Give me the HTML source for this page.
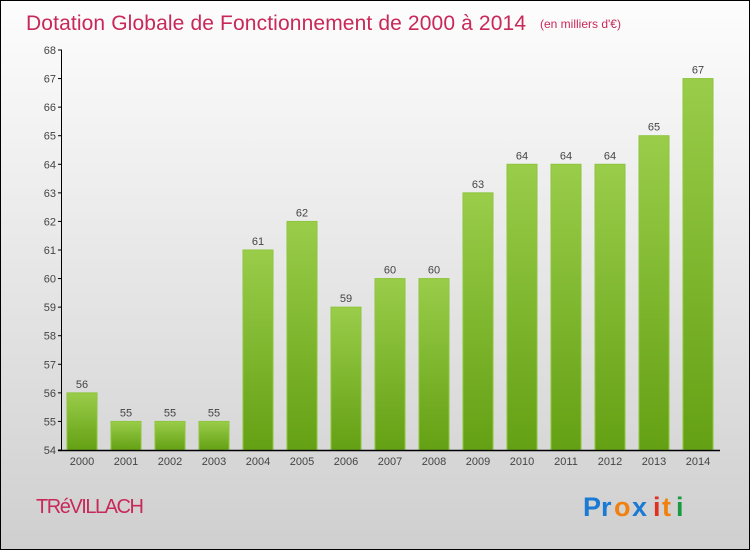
<!DOCTYPE html>
<html><head><meta charset="utf-8"><style>
html,body{margin:0;padding:0;}
body{width:750px;height:550px;overflow:hidden;font-family:"Liberation Sans","DejaVu Sans",sans-serif;}
</style></head><body>
<svg id="chart" width="750" height="550" viewBox="0 0 750 550">
<defs>
<linearGradient id="bg" x1="0" y1="0" x2="0" y2="1"><stop offset="0" stop-color="#fdfdfd"/><stop offset="1" stop-color="#cfcfcf"/></linearGradient>
<linearGradient id="bar" x1="0" y1="0" x2="0" y2="1"><stop offset="0" stop-color="#9acd4a"/><stop offset="1" stop-color="#64a014"/></linearGradient>
</defs>
<rect x="0.5" y="0.5" width="749" height="549" fill="url(#bg)" stroke="#000"/>
<text x="26" y="30" font-size="21" fill="#c8285a" textLength="500">Dotation Globale de Fonctionnement de 2000 à 2014</text>
<text x="540" y="28" font-size="12" fill="#c8285a">(en milliers d'€)</text>
<g id="yaxis"></g><g id="bars"></g><g id="xaxis"></g>
<text x="36" y="513" font-size="20" fill="#c8285a" textLength="108">TRéVILLACH</text>
<g font-size="27" font-weight="bold">
<text x="583" y="516" fill="#1a7ad4">Pr</text><text x="614" y="516" fill="#f08010">o</text><text x="632" y="516" fill="#1a7ad4">x</text><text x="653" y="516" fill="#e03020">i</text><text x="662" y="516" fill="#f08010">t</text><text x="676" y="516" fill="#1a9a40">i</text>
</g>
</svg>
<script>
const years=["2000","2001","2002","2003","2004","2005","2006","2007","2008","2009","2010","2011","2012","2013","2014"];
const values=[56,55,55,55,61,62,59,60,60,63,64,64,64,65,67];
const yTicks=[54,55,56,57,58,59,60,61,62,63,64,65,66,67,68];
const NS="http://www.w3.org/2000/svg";
const yMin=54,yMax=68,yTop=50,yBot=450;
const y=v=>yBot-(v-yMin)/(yMax-yMin)*(yBot-yTop);
const x=i=>82+i*44;
function mk(t,a,p){const e=document.createElementNS(NS,t);for(const k in a)e.setAttribute(k,a[k]);p.appendChild(e);return e;}
const ya=document.getElementById('yaxis'),ba=document.getElementById('bars'),xa=document.getElementById('xaxis');
const axl=mk('line',{x1:61.5,y1:yTop,x2:61.5,y2:yBot,stroke:'#000','stroke-width':1},ya);


yTicks.forEach(v=>{
 const t=mk('line',{x1:58,x2:62,y1:y(v),y2:y(v),stroke:'#000'},ya);
 
 
 const l=mk('text',{x:56,y:y(v)+4,'text-anchor':'end','font-size':11,fill:'#444'},ya);
 l.textContent=v;
 
 
});
values.forEach((v,i)=>{
 const r=mk('rect',{x:x(i)-15,y:y(v),width:30,height:yBot-y(v),fill:'url(#bar)',stroke:'#8cc63c','stroke-width':1},ba);
 
 
 const t=mk('text',{x:x(i),y:y(v)-5,'text-anchor':'middle','font-size':11,fill:'#444'},ba);
 t.textContent=v;
 
 
 const xl=mk('text',{x:x(i),y:465,'text-anchor':'middle','font-size':11,fill:'#444'},xa);
 xl.textContent=years[i];
 
 
});
const xl=mk('line',{x1:58,y1:yBot+0.5,x2:720,y2:yBot+0.5,stroke:'#000','stroke-width':1.5},xa);


</script>
</body></html>
